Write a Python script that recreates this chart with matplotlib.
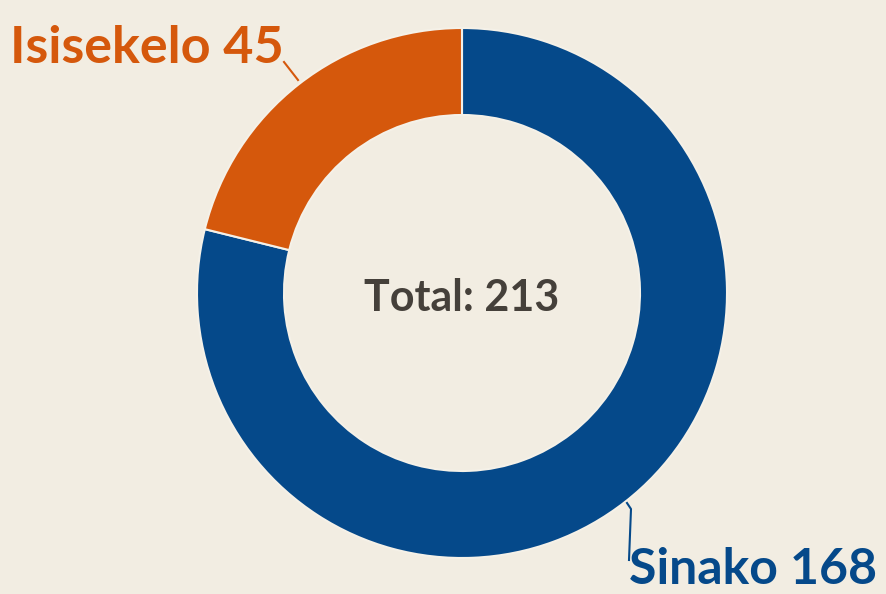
import matplotlib.pyplot as plt

labels = ["Sinako", "Isisekelo"]
values = [168, 45]
colors = ["#05498a", "#d5580c"]
total = sum(values)

bg = "#f2ede2"
plt.rcParams["font.family"] = ["Lato", "DejaVu Sans"]

W, H = 886, 594
fig = plt.figure(figsize=(W / 100, H / 100), dpi=100, facecolor=bg)
ax = fig.add_axes([0, 0, 1, 1])
ax.set_facecolor(bg)

cx, cy = 462, H - 293
r_out, r_in = 265, 178
ax.pie(values, colors=colors, radius=r_out, center=(cx, cy), startangle=90,
       counterclock=False,
       wedgeprops=dict(width=r_out - r_in, edgecolor="#f5f1e8", linewidth=1.5))
ax.set_xlim(0, W)
ax.set_ylim(0, H)
ax.set_aspect("equal")
ax.axis("off")

ax.text(cx, cy - 5, f"Total: {total}", ha="center", va="center",
        fontsize=31, fontweight="bold", color="#45403a")

# leader lines + labels
ax.plot([627, 631, 629], [H - 503, H - 509, H - 560], color=colors[0], lw=1.5)
ax.text(629, H - 584, f"{labels[0]} {values[0]}", ha="left", va="baseline",
        fontsize=36, fontweight="bold", color=colors[0])
ax.plot([298, 284], [H - 80, H - 62], color=colors[1], lw=1.5)
ax.text(10, H - 63, f"{labels[1]} {values[1]}", ha="left", va="baseline",
        fontsize=37.5, fontweight="bold", color=colors[1])

fig.savefig("out.png", dpi=100, facecolor=bg)
